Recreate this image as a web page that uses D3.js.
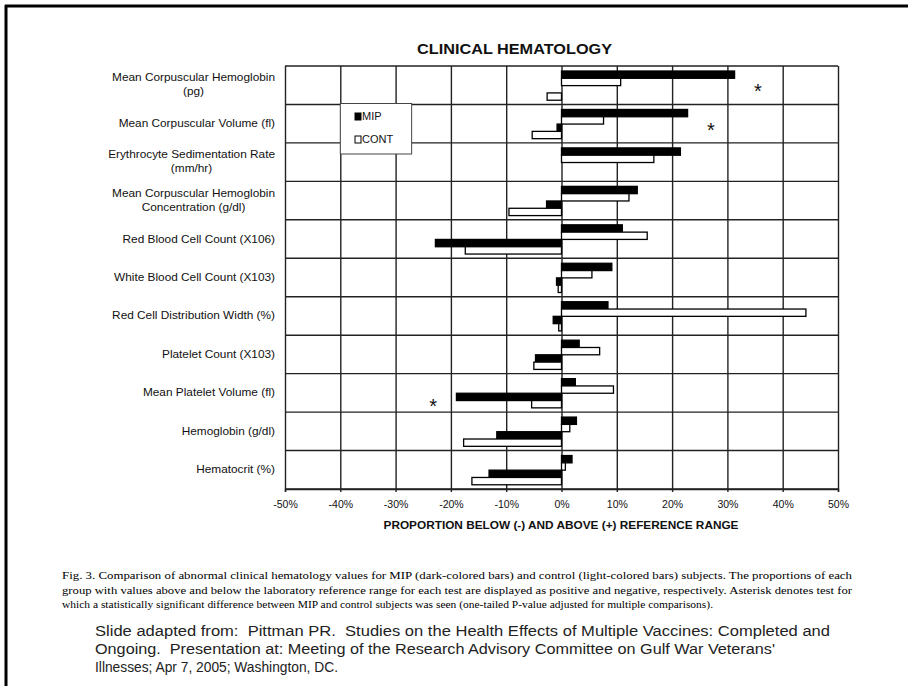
<!DOCTYPE html>
<html>
<head>
<meta charset="utf-8">
<script src="https://cdn.jsdelivr.net/npm/d3@7/dist/d3.min.js"></script>
<style>
  html, body { margin: 0; padding: 0; background: #fff; }
  svg { display: block; }
  text { white-space: pre; }
</style>
</head>
<body>
<svg id="chart" width="908" height="686"></svg>
<script>
// Hematology tests, top to bottom (multi-line labels split into lines)
const categories = [
  ["Mean Corpuscular Hemoglobin", "(pg)"],
  ["Mean Corpuscular Volume (fl)"],
  ["Erythrocyte Sedimentation Rate", "(mm/hr)"],
  ["Mean Corpuscular Hemoglobin", "Concentration (g/dl)"],
  ["Red Blood Cell Count (X106)"],
  ["White Blood Cell Count (X103)"],
  ["Red Cell Distribution Width (%)"],
  ["Platelet Count (X103)"],
  ["Mean Platelet Volume (fl)"],
  ["Hemoglobin (g/dl)"],
  ["Hematocrit (%)"]
];

// Percent of subjects above (+) and below (-) the reference range
const mipAbove  = [31.3, 22.8, 21.5, 13.7, 11.0, 9.1, 8.4, 3.2, 2.5, 2.7, 1.9];
const contAbove = [10.7, 7.6, 16.7, 12.2, 15.5, 5.5, 44.2, 6.9, 9.4, 1.5, 0.7];
const mipBelow  = [0, -0.8, 0, -2.7, -22.8, -0.9, -1.5, -4.7, -19.0, -11.7, -13.1];
const contBelow = [-2.6, -5.3, 0, -9.5, -17.4, -0.6, -0.5, -5.0, -5.4, -17.7, -16.2];

// Tests with a significant MIP vs control difference (row index, direction)
const significantRows = [0, 1, 8];
const significantSide = ["above", "above", "below"];

const tickValues = [-50, -40, -30, -20, -10, 0, 10, 20, 30, 40, 50];
const seriesNames = ["MIP", "CONT"];

const titleText = "CLINICAL HEMATOLOGY";
const axisTitleText = "PROPORTION BELOW (-) AND ABOVE (+) REFERENCE RANGE";
const captionLines = [
  "Fig. 3. Comparison of abnormal clinical hematology values for MIP (dark-colored bars) and control (light-colored bars) subjects. The proportions of each",
  "group with values above and below the laboratory reference range for each test are displayed as positive and negative, respectively. Asterisk denotes test for",
  "which a statistically significant difference between MIP and control subjects was seen (one-tailed P-value adjusted for multiple comparisons)."
];
const sourceLines = [
  "Slide adapted from:  Pittman PR.  Studies on the Health Effects of Multiple Vaccines: Completed and",
  "Ongoing.  Presentation at: Meeting of the Research Advisory Committee on Gulf War Veterans'",
  "Illnesses; Apr 7, 2005; Washington, DC."
];

// ---------------------------------------------------------------
const svg = d3.select("#chart");
const plot = { left: 285, right: 838, top: 66, bottom: 489 };

const x = d3.scaleLinear().domain([-50, 50]).range([plot.left, plot.right]);
const y = d3.scaleBand().domain(d3.range(categories.length)).range([plot.top, plot.bottom]);
const h = y.bandwidth();
const slots = ["mipAbove", "contAbove", "mipBelow", "contBelow"];
const sub = d3.scaleBand().domain(slots).range([0.13 * h, 0.89 * h]);

const sans = "'Liberation Sans', Arial, Helvetica, sans-serif";

// stretch a text element horizontally by a factor
function stretch(sel, k) {
  sel.each(function () {
    const w = this.getComputedTextLength();
    d3.select(this).attr("textLength", w * k).attr("lengthAdjust", "spacingAndGlyphs");
  });
}
function fitWidth(sel, w) {
  sel.attr("textLength", w).attr("lengthAdjust", "spacingAndGlyphs");
}

// slide frame
svg.append("line").attr("x1", 5).attr("x2", 908).attr("y1", 6).attr("y2", 6)
  .attr("stroke", "#000").attr("stroke-width", 3);
svg.append("line").attr("x1", 6).attr("x2", 6).attr("y1", 5).attr("y2", 686)
  .attr("stroke", "#000").attr("stroke-width", 3);

// title
svg.append("text").attr("x", 514.5).attr("y", 54)
  .attr("text-anchor", "middle").attr("font-family", sans)
  .attr("font-weight", "bold").attr("font-size", 14).attr("fill", "#111")
  .text(titleText).call(fitWidth, 195);

// vertical grid
const gridX = svg.append("g").attr("transform", `translate(0,${plot.bottom})`)
  .call(d3.axisBottom(x).tickValues(tickValues).tickSize(-(plot.bottom - plot.top)).tickFormat(""));
gridX.select(".domain").remove();
gridX.selectAll("line").attr("stroke", "#222").attr("stroke-width", 1.4);

// horizontal grid (row boundaries)
const rowEdges = d3.range(categories.length + 1).map(i => i < categories.length ? y(i) : plot.bottom);
svg.append("g").selectAll("line").data(rowEdges).join("line")
  .attr("x1", plot.left).attr("x2", plot.right)
  .attr("y1", d => d).attr("y2", d => d)
  .attr("stroke", "#222").attr("stroke-width", 1.4);

// bottom axis with tick labels
const axis = svg.append("g").attr("transform", `translate(0,${plot.bottom})`)
  .call(d3.axisBottom(x).tickValues(tickValues).tickSize(3).tickPadding(9)
    .tickFormat(d => (d < 0 ? "-" + Math.abs(d) : d) + "%"));
axis.select(".domain").attr("stroke", "#222").attr("stroke-width", 1.4);
axis.selectAll(".tick line").attr("stroke", "#222").attr("stroke-width", 1.4);
axis.selectAll(".tick text").attr("font-family", sans).attr("font-size", 10.5).attr("fill", "#111");

// axis title
svg.append("text").attr("x", 561).attr("y", 529)
  .attr("text-anchor", "middle").attr("font-family", sans)
  .attr("font-weight", "bold").attr("font-size", 10.5).attr("fill", "#111")
  .text(axisTitleText).call(fitWidth, 355);

// bars
const series = { mipAbove, contAbove, mipBelow, contBelow };
const barData = [];
slots.forEach(key => {
  series[key].forEach((v, i) => { if (v !== 0) barData.push({ key, i, v }); });
});
svg.append("g").selectAll("rect").data(barData).join("rect")
  .attr("x", d => Math.min(x(0), x(d.v)))
  .attr("width", d => Math.abs(x(d.v) - x(0)))
  .attr("y", d => y(d.i) + sub(d.key))
  .attr("height", sub.bandwidth())
  .attr("fill", d => d.key.startsWith("mip") ? "#000" : "#fff")
  .attr("stroke", "#000").attr("stroke-width", 1.3);

// significance asterisks, just past the MIP bar
svg.append("g").selectAll("text").data(significantRows).join("text")
  .attr("x", (r, k) => significantSide[k] === "above" ? x(mipAbove[r] + 4.2) : x(mipBelow[r] - 4.2))
  .attr("y", (r, k) => y(r) + (significantSide[k] === "above" ? 0.52 : 0.69) * h)
  .attr("dy", "0.62em")
  .attr("text-anchor", "middle").attr("font-family", sans)
  .attr("font-size", 20).attr("fill", "#111").text("*");

// category labels: first line right-aligned, second line centred under it
const labelRight = 275;
const labels = svg.append("g").attr("font-family", sans).attr("font-size", 10.2).attr("fill", "#111");
categories.forEach((lines, i) => {
  const c = y(i) + h / 2;
  const two = lines.length > 1;
  const t1 = labels.append("text").attr("x", labelRight).attr("y", two ? c - 4 : c + 3.5)
    .attr("text-anchor", "end").text(lines[0]).call(stretch, 1.16);
  if (two) {
    const w1 = +t1.attr("textLength");
    labels.append("text").attr("x", labelRight - w1 / 2).attr("y", c + 10)
      .attr("text-anchor", "middle").text(lines[1]).call(stretch, 1.16);
  }
});

// legend
const lg = svg.append("g");
lg.append("rect").attr("x", x(-40)).attr("y", 103.5).attr("width", x(-27.1) - x(-40)).attr("height", 50.5)
  .attr("fill", "#fff").attr("stroke", "#444").attr("stroke-width", 1);
seriesNames.forEach((name, k) => {
  const yy = 120 + k * 23;
  lg.append("rect").attr("x", 355).attr("y", yy - 7).attr("width", 6).attr("height", 7)
    .attr("fill", k === 0 ? "#000" : "#fff").attr("stroke", "#000").attr("stroke-width", 1);
  lg.append("text").attr("x", 362).attr("y", yy).attr("font-family", sans)
    .attr("font-size", 10).attr("fill", "#111").text(name).call(stretch, 1.1);
});

// figure caption (serif)
const capWidths = [790, 790, 651];
captionLines.forEach((line, k) => {
  svg.append("text").attr("x", 62).attr("y", 579 + k * 14.5)
    .attr("font-family", "'Liberation Serif', 'Times New Roman', serif")
    .attr("font-size", 11).attr("fill", "#000")
    .text(line).call(fitWidth, capWidths[k]);
});

// source note, each line fitted to its own extent
const srcWidths = [735, 680, 243];
sourceLines.forEach((line, k) => {
  svg.append("text").attr("x", 95).attr("y", 636 + k * 18)
    .attr("font-family", sans).attr("font-size", 14).attr("fill", "#222")
    .text(line).call(fitWidth, srcWidths[k]);
});
</script>
</body>
</html>
